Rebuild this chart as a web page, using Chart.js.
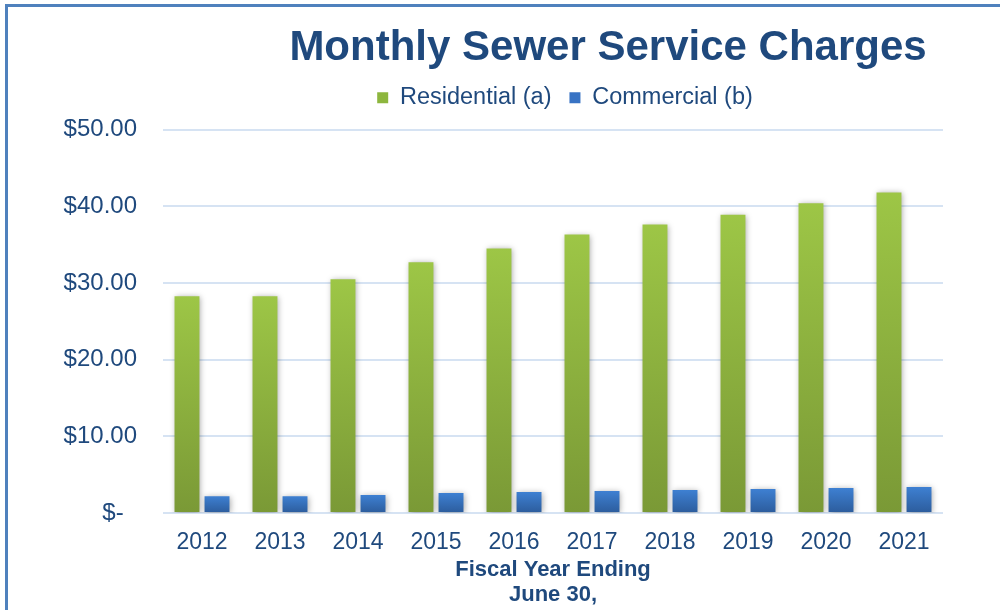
<!DOCTYPE html>
<html lang="en">
<head>
  <meta charset="UTF-8">
  <title>Monthly Sewer Service Charges</title>
  <script src="https://cdn.jsdelivr.net/npm/chart.js"></script>
  <style>
    body {
      margin: 0;
      background: #ffffff;
      font-family: "Liberation Sans", Arial, sans-serif;
    }
    .frame {
      position: absolute;
      left: 5px;
      top: 4px;
      width: 1000px;
      height: 610px;
      border-top: 3px solid #4F81BD;
      border-left: 3px solid #4F81BD;
    }
    #wrap {
      position: absolute;
      left: 0;
      top: 0;
      width: 1000px;
      height: 610px;
    }
  </style>
</head>
<body>
  <div class="frame"></div>
  <div id="wrap"><canvas id="sewerChart"></canvas></div>

  <script>
    const years = ['2012', '2013', '2014', '2015', '2016', '2017', '2018', '2019', '2020', '2021'];
    const residential = [28.26, 28.26, 30.47, 32.68, 34.50, 36.30, 37.60, 38.90, 40.40, 41.80];
    const commercial = [2.20, 2.20, 2.34, 2.60, 2.73, 2.86, 3.00, 3.12, 3.25, 3.39];
    const yTicks = [0, 10, 20, 30, 40, 50];

    const navy = '#1F497D';
    const fontFam = '"Liberation Sans", Arial, sans-serif';

    // vertical gradient per bar, from its top down to zero
    function barGradient(light, dark) {
      return function (ctx) {
        const chart = ctx.chart;
        if (!chart.chartArea || ctx.raw === undefined) return dark;
        const y = chart.scales.y;
        const g = chart.ctx.createLinearGradient(0, y.getPixelForValue(ctx.raw), 0, y.getPixelForValue(0));
        g.addColorStop(0, light);
        g.addColorStop(1, dark);
        return g;
      };
    }

    const titlePlugin = {
      id: 'bigTitle',
      beforeDraw(chart) {
        const c = chart.ctx;
        c.save();
        c.font = 'bold 42px ' + fontFam;
        c.fillStyle = navy;
        c.textAlign = 'center';
        c.textBaseline = 'alphabetic';
        c.fillText('Monthly Sewer Service Charges', 608, 60);
        c.restore();
      }
    };

    // a bit more room under the legend, and nudge it right
    const legendSpacer = {
      id: 'legendSpacer',
      beforeUpdate(chart) {
        const lg = chart.legend;
        if (!lg || lg._spaced) return;
        const fit = lg.fit;
        lg.fit = function () {
          fit.call(this);
          this.height += 10;
        };
        lg._spaced = true;
      },
      afterLayout(chart) {
        const lg = chart.legend;
        if (!lg) return;
        lg.left += 12;
        lg.right += 12;
      }
    };

    const shadowPlugin = {
      id: 'barShadow',
      beforeDatasetsDraw(chart) {
        const c = chart.ctx;
        c.save();
        c.shadowColor = 'rgba(0,0,0,0.35)';
        c.shadowBlur = 6;
        c.shadowOffsetX = 1;
        c.shadowOffsetY = 1;
      },
      afterDatasetsDraw(chart) {
        chart.ctx.restore();
      }
    };

    const solid = ['#8DB63E', '#3873C4'];

    new Chart(document.getElementById('sewerChart'), {
      type: 'bar',
      data: {
        labels: years,
        datasets: [{
          label: 'Residential (a)',
          data: residential,
          backgroundColor: barGradient('#9DC646', '#7A9936')
        }, {
          label: 'Commercial (b)',
          data: commercial,
          backgroundColor: barGradient('#3E80D2', '#2C5C9C')
        }]
      },
      options: {
        responsive: true,
        maintainAspectRatio: false,
        animation: false,
        categoryPercentage: 0.77,
        barPercentage: 0.83,
        layout: { padding: { top: 68, left: 0, right: 57, bottom: 0 } },
        plugins: {
          tooltip: { enabled: false },
          legend: {
            position: 'top',
            fullSize: false,
            labels: {
              color: navy,
              font: { size: 23.5, family: fontFam },
              boxWidth: 11,
              boxHeight: 11,
              padding: 18,
              generateLabels(chart) {
                return Chart.defaults.plugins.legend.labels.generateLabels(chart).map((item, i) => {
                  item.fillStyle = solid[i];
                  item.strokeStyle = solid[i];
                  item.lineWidth = 0;
                  return item;
                });
              }
            }
          }
        },
        scales: {
          x: {
            afterFit(scale) {
              scale.height = 97;
            },
            grid: { display: false, drawTicks: false },
            border: { display: false },
            ticks: {
              color: navy,
              padding: 16,
              font: { size: 23, family: fontFam }
            },
            title: {
              display: true,
              text: ['Fiscal Year Ending', 'June 30,'],
              color: navy,
              font: { size: 22, weight: 'bold', family: fontFam, lineHeight: 1.15 },
              padding: { top: 0, bottom: 2 }
            }
          },
          y: {
            min: 0,
            max: 50,
            afterBuildTicks(scale) {
              scale.ticks = yTicks.map(v => ({ value: v }));
            },
            afterFit(scale) {
              scale.width = 163;
            },
            grid: { color: '#D6E3F3', lineWidth: 2, drawTicks: false },
            border: { display: false },
            ticks: {
              color: navy,
              padding: 26,
              font: { size: 24, family: fontFam },
              callback: v => v === 0 ? '$-  ' : '$' + v.toFixed(2)
            }
          }
        }
      },
      plugins: [titlePlugin, legendSpacer, shadowPlugin]
    });
  </script>
</body>
</html>
